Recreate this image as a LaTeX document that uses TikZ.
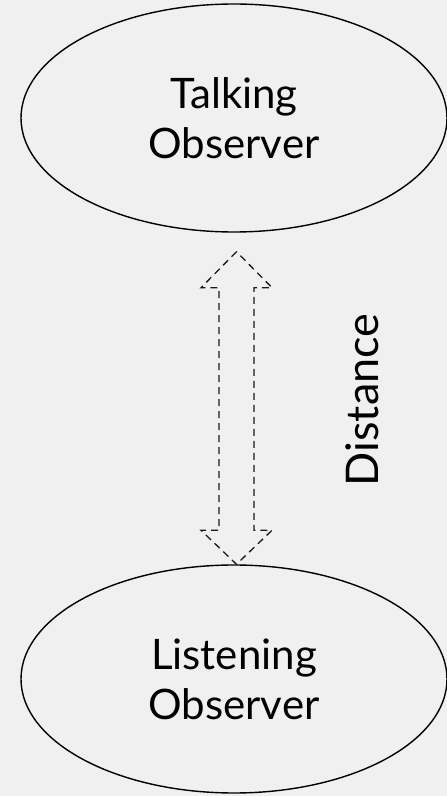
\documentclass[tikz,border=0pt]{standalone}
\usepackage{fontspec}
\setmainfont{Lato}
\usetikzlibrary{shapes.geometric, positioning, calc}

\definecolor{paper}{RGB}{240,240,240}

\begin{document}
\begin{tikzpicture}[x=1pt, y=1pt,
    observer/.style={ellipse, draw, line width=1.4pt, inner sep=0pt,
      minimum width=426pt, minimum height=228pt, align=center,
      font=\fontsize{42}{50}\selectfont},
    hollow/.style={draw=black!90, line width=1.3pt, dash pattern=on 7pt off 5pt,
      line join=miter}]

  \fill[paper] (0,0) rectangle (447,796);
  \useasboundingbox (0,0) rectangle (447,796);

  \node[observer] (talk) at (234,678) {Talking\\Observer};
  \node[observer] (listen) at (234,117) {Listening\\Observer};

  % dashed two-headed outline arrow between the observers
  \draw[hollow] let \p1 = ($(talk.south)+(2.5,-19)$), \p2 = ($(listen.north)+(2.5,0)$) in
    (\p1) -- ++(-35.5,-36) -- ++(18,0) -- (\x2-17.5,\y2+34) -- ++(-18,0) -- (\p2)
    -- ++(35.5,34) -- ++(-18,0) -- (\x1+17.5,\y1-36) -- ++(18,0) -- cycle;

  \node[rotate=90, font=\fontsize{45}{50}\selectfont] (dist) at (362,396) {Distance};
\end{tikzpicture}
\end{document}
